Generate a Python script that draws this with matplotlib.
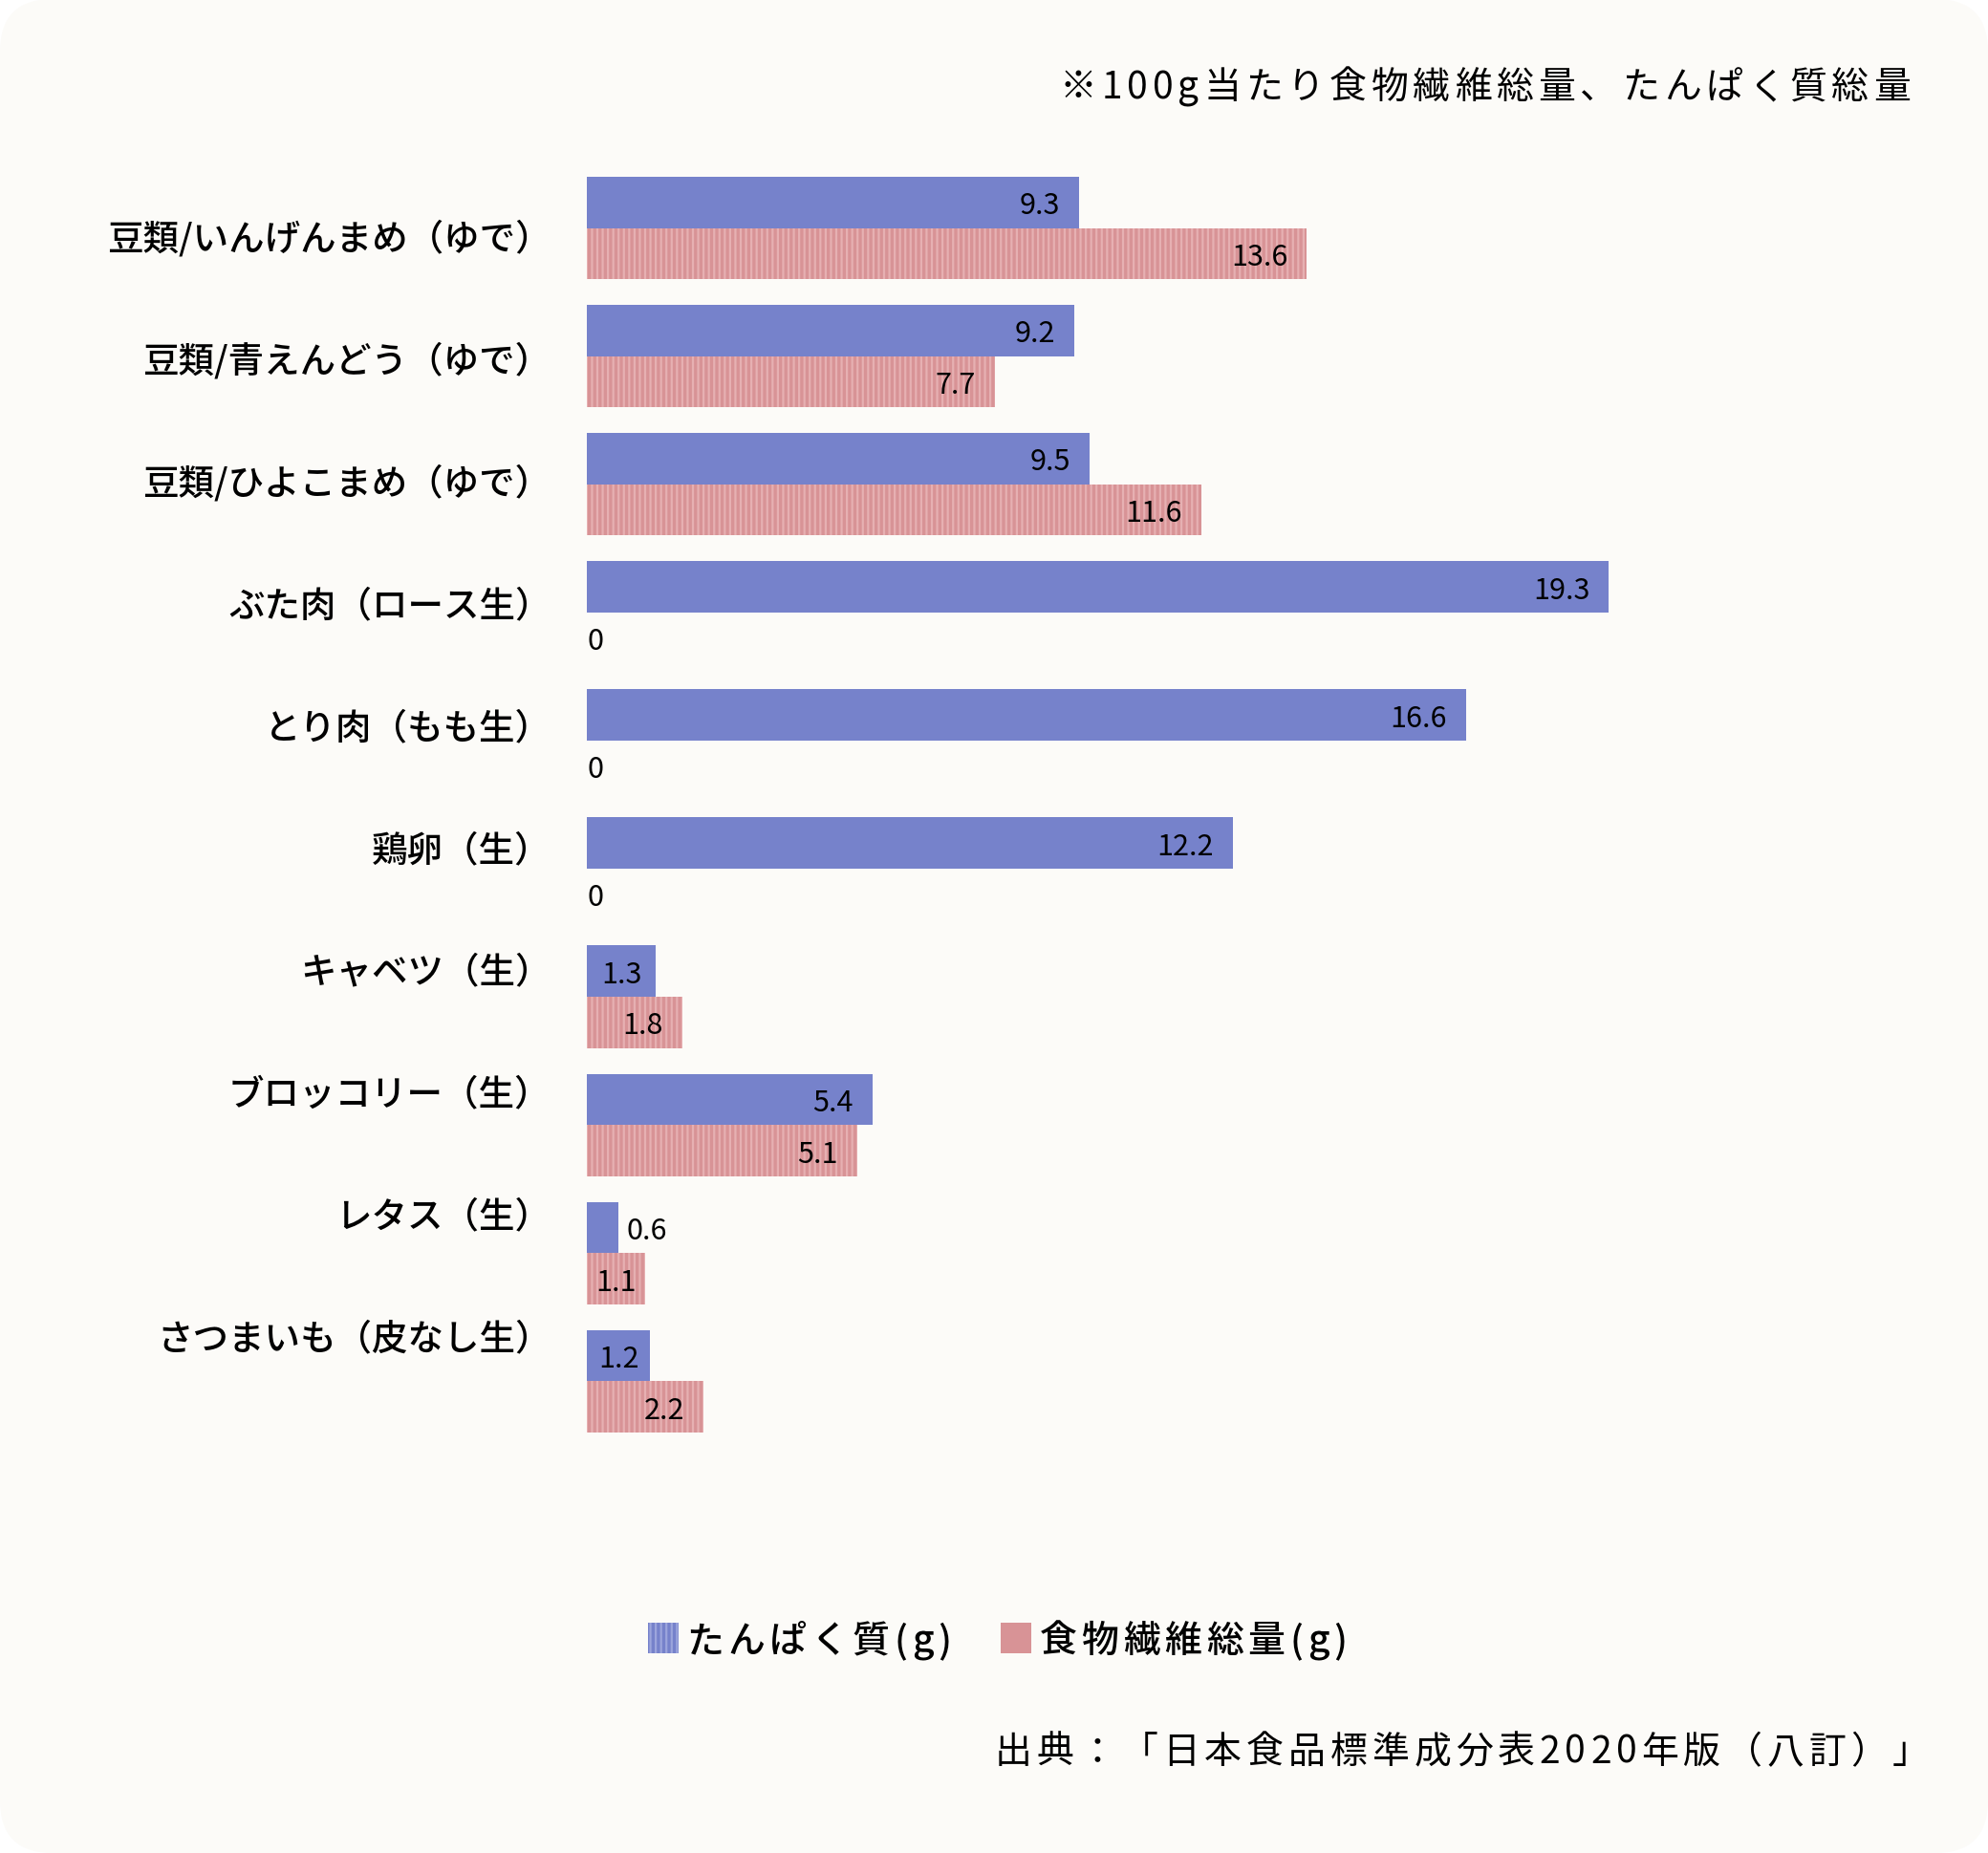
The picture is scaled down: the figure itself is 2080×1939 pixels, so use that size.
import matplotlib
matplotlib.use("Agg")
import matplotlib.pyplot as plt
from matplotlib.patches import FancyBboxPatch, Rectangle
from matplotlib.transforms import IdentityTransform
from matplotlib.font_manager import FontProperties
import numpy as np

# data
foods = [
    "豆類/いんげんまめ（ゆで）",
    "豆類/青えんどう（ゆで）",
    "豆類/ひよこまめ（ゆで）",
    "ぶた肉（ロース生）",
    "とり肉（もも生）",
    "鶏卵（生）",
    "キャベツ（生）",
    "ブロッコリー（生）",
    "レタス（生）",
    "さつまいも（皮なし生）",
]
protein = [9.3, 9.2, 9.5, 19.3, 16.6, 12.2, 1.3, 5.4, 0.6, 1.2]
fiber = [13.6, 7.7, 11.6, 0, 0, 0, 1.8, 5.1, 1.1, 2.2]
series_names = ["たんぱく質(g)", "食物繊維総量(g)"]
note = "※100g当たり食物繊維総量、たんぱく質総量"
source = "出典：「日本食品標準成分表2020年版（八訂）」"

W, H = 2080, 1940
BG = "#FCFBF8"
BLUE = "#7682CB"
BLUE_LINE = "#9CA5DC"
PINK = "#D89396"
PINK_LINE = "#E6B0B2"
FONT = ["Noto Sans CJK JP", "DejaVu Sans"]

plt.rcParams["font.family"] = FONT
plt.rcParams["hatch.linewidth"] = 1.6

fig = plt.figure(figsize=(W / 100, H / 100), dpi=100)
fig.patch.set_facecolor("white")
bg = FancyBboxPatch((0, 0), W, H, boxstyle="round,pad=0,rounding_size=55",
                    transform=IdentityTransform(), facecolor=BG, edgecolor="none",
                    zorder=-10)
fig.patches.append(bg)

ax = fig.add_axes([614 / W, (H - 1500) / H, 1108 / W, 1314 / H])
ax.set_facecolor("none")
y = np.arange(len(foods))
ax.barh(y - 0.2, protein, height=0.4, color=BLUE, linewidth=0)
ax.barh(y + 0.2, fiber, height=0.4, color=PINK, edgecolor=PINK_LINE,
        hatch="|||", linewidth=0)
ax.set_xlim(0, 20)
ax.set_ylim(len(foods) - 0.6, -0.4)
for s in ax.spines.values():
    s.set_visible(False)
ax.set_xticks([])
# category labels sit on their own slightly tighter spacing
ax.set_yticks(0.05 + 0.954 * y, foods)
ax.tick_params(axis="y", length=0, pad=27, labelsize=27)
for t in ax.get_yticklabels():
    t.set_fontweight("medium")


def value_label(v, yc):
    txt = f"{v:g}"
    kw = dict(va="center", fontsize=22, textcoords="offset pixels")
    if v == 0:
        ax.annotate("0", (0, yc), xytext=(1, -3), ha="left", **kw)
    elif v < 1:
        ax.annotate(txt, (v, yc), xytext=(8, -3), ha="left", **kw)
    elif v < 1.5:
        ax.annotate(txt, (v / 2, yc), xytext=(0, -3), ha="center", **kw)
    else:
        ax.annotate(txt, (v, yc), xytext=(-20, -3), ha="right", **kw)


for i in range(len(foods)):
    value_label(protein[i], i - 0.2)
    value_label(fiber[i], i + 0.2)

renderer = fig.canvas.get_renderer()


def spaced_text(s, left_px, base_px, width_px, size, weight="normal"):
    # draw char by char to get the letter spacing of the original
    fp = FontProperties(family=FONT, size=size, weight=weight)

    def w(t):
        return renderer.get_text_width_height_descent(t, fp, ismath=False)[0]

    ref = w("国国")
    adv = [w("国" + ch + "国") - ref for ch in s]
    gap = (width_px - sum(adv)) / (len(s) - 1)
    x = left_px
    for ch, a in zip(s, adv):
        fig.text(x / W, 1 - base_px / H, ch, ha="left", va="baseline",
                 fontproperties=fp)
        x += a + gap


spaced_text(note, 1109, 103, 890, 28)
spaced_text(source, 1041, 1845, 978, 28)

# legend, drawn by hand so the text spacing matches
sw = 32
legend_items = [
    (678, 718, 277, dict(facecolor=BLUE, edgecolor=BLUE_LINE, hatch="|||")),
    (1047, 1088, 321, dict(facecolor=PINK, edgecolor="none")),
]
for (sx, tx, tw, style), name in zip(legend_items, series_names):
    fig.add_artist(Rectangle((sx, H - 1731), sw, sw, linewidth=0,
                             transform=IdentityTransform(), **style))
    spaced_text(name, tx, 1729, tw, 28, weight="medium")

fig.savefig("out.png", dpi=100, facecolor=fig.get_facecolor())
